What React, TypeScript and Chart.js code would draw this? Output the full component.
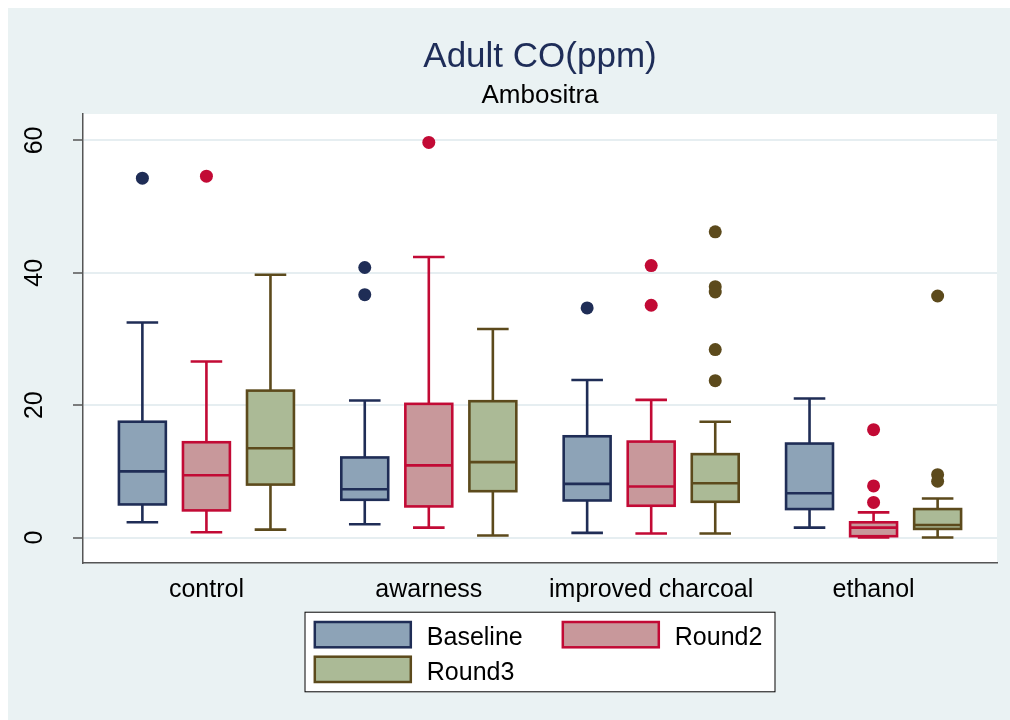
import { useEffect, useRef } from 'react';
import { Chart, registerables } from 'chart.js';

Chart.register(...registerables);

// ---------- data ----------
const titleText = 'Adult CO(ppm)';
const subtitleText = 'Ambositra';
const categories = ['control', 'awarness', 'improved charcoal', 'ethanol'];
const seriesNames = ['Baseline', 'Round2', 'Round3'];
const yTicks = [0, 20, 40, 60];

const baselineLow = [2.3, 2.0, 0.7, 1.5];
const baselineQ1 = [5.0, 5.7, 5.6, 4.3];
const baselineMedian = [10.0, 7.3, 8.1, 6.7];
const baselineQ3 = [17.5, 12.1, 15.3, 14.2];
const baselineHigh = [32.5, 20.7, 23.8, 21.0];
const baselineOutliers = [[54.3], [40.8, 36.7], [34.7], []];

const round2Low = [0.8, 1.5, 0.6, 0.0];
const round2Q1 = [4.1, 4.7, 4.8, 0.2];
const round2Median = [9.4, 10.9, 7.7, 1.5];
const round2Q3 = [14.4, 20.2, 14.5, 2.3];
const round2High = [26.6, 42.4, 20.8, 3.8];
const round2Outliers = [[54.6], [59.7], [41.1, 35.1], [16.3, 7.8, 5.3]];

const round3Low = [1.2, 0.3, 0.6, 0.0];
const round3Q1 = [8.0, 7.0, 5.4, 1.3];
const round3Median = [13.5, 11.4, 8.2, 1.9];
const round3Q3 = [22.2, 20.6, 12.6, 4.3];
const round3High = [39.7, 31.5, 17.5, 5.9];
const round3Outliers = [[], [], [46.2, 37.9, 37.1, 28.4, 23.7], [36.5, 9.5, 8.5]];

// ---------- styling ----------
const seriesStroke = ['#1F2D56', '#C20A35', '#5C4A1C'];
const seriesFill = ['#8DA3B7', '#C8989B', '#ABBA96'];
const groupOffsets = [-0.288, 0, 0.288];
const boxWidthUnits = 0.211;
const capWidthUnits = 0.142;
const bgColor = '#EAF2F3';
const FONT = '"Liberation Sans", Arial, Helvetica, sans-serif';

const seriesStats = [
  { low: baselineLow, q1: baselineQ1, med: baselineMedian, q3: baselineQ3, high: baselineHigh, out: baselineOutliers },
  { low: round2Low, q1: round2Q1, med: round2Median, q3: round2Q3, high: round2High, out: round2Outliers },
  { low: round3Low, q1: round3Q1, med: round3Median, q3: round3Q3, high: round3High, out: round3Outliers },
];

const boxPlugin = {
  id: 'stataBox',
  beforeDraw(chart: any) {
    const { ctx, chartArea, width, height } = chart;
    ctx.save();
    ctx.fillStyle = bgColor;
    ctx.fillRect(0, 0, width, height);
    ctx.fillStyle = '#FFFFFF';
    ctx.fillRect(chartArea.left, chartArea.top, chartArea.right - chartArea.left, chartArea.bottom - chartArea.top);
    ctx.restore();
  },
  beforeDatasetsDraw(chart: any) {
    const { ctx } = chart;
    const xs = chart.scales.x;
    const ys = chart.scales.y;
    const unit = xs.getPixelForValue(1) - xs.getPixelForValue(0);
    const halfBox = (boxWidthUnits * unit) / 2;
    const halfCap = (capWidthUnits * unit) / 2;
    ctx.save();
    ctx.lineWidth = 2.6;
    ctx.lineCap = 'butt';
    seriesStats.forEach((st, s) => {
      categories.forEach((_, i) => {
        const cx = xs.getPixelForValue(i + groupOffsets[s]);
        const yLow = ys.getPixelForValue(st.low[i]);
        const yQ1 = ys.getPixelForValue(st.q1[i]);
        const yMed = ys.getPixelForValue(st.med[i]);
        const yQ3 = ys.getPixelForValue(st.q3[i]);
        const yHigh = ys.getPixelForValue(st.high[i]);
        ctx.strokeStyle = seriesStroke[s];
        ctx.beginPath();
        ctx.moveTo(cx, yQ3);
        ctx.lineTo(cx, yHigh);
        ctx.moveTo(cx - halfCap, yHigh);
        ctx.lineTo(cx + halfCap, yHigh);
        ctx.moveTo(cx, yQ1);
        ctx.lineTo(cx, yLow);
        ctx.moveTo(cx - halfCap, yLow);
        ctx.lineTo(cx + halfCap, yLow);
        ctx.stroke();
        ctx.fillStyle = seriesFill[s];
        ctx.fillRect(cx - halfBox, yQ3, halfBox * 2, yQ1 - yQ3);
        ctx.strokeRect(cx - halfBox, yQ3, halfBox * 2, yQ1 - yQ3);
        ctx.beginPath();
        ctx.moveTo(cx - halfBox, yMed);
        ctx.lineTo(cx + halfBox, yMed);
        ctx.stroke();
      });
    });
    ctx.restore();
  },
  afterDraw(chart: any) {
    const { ctx, chartArea } = chart;
    const xs = chart.scales.x;
    const ys = chart.scales.y;
    const cxArea = (chartArea.left + chartArea.right) / 2;
    ctx.save();
    // titles
    ctx.textAlign = 'center';
    ctx.textBaseline = 'alphabetic';
    ctx.fillStyle = '#1E2D58';
    ctx.font = `35px ${FONT}`;
    ctx.fillText(titleText, cxArea, chartArea.top - 47.3);
    ctx.fillStyle = '#000000';
    ctx.font = `26px ${FONT}`;
    ctx.fillText(subtitleText, cxArea, chartArea.top - 10.7);
    // x labels
    ctx.font = `25px ${FONT}`;
    categories.forEach((c, i) => {
      ctx.fillText(c, xs.getPixelForValue(i), chartArea.bottom + 33.7);
    });
    // y labels (rotated)
    yTicks.forEach((v) => {
      const py = ys.getPixelForValue(v);
      ctx.save();
      ctx.translate(chartArea.left - 41.5, py);
      ctx.rotate(-Math.PI / 2);
      ctx.textAlign = 'center';
      ctx.textBaseline = 'alphabetic';
      ctx.fillText(String(v), 0, 0);
      ctx.restore();
    });
    // legend
    const lw = 471;
    const lh = 80.6;
    const lx = cxArea - lw / 2;
    const ly = chartArea.bottom + 48.7;
    ctx.fillStyle = '#FFFFFF';
    ctx.fillRect(lx, ly, lw, lh);
    ctx.strokeStyle = '#000000';
    ctx.lineWidth = 1;
    ctx.strokeRect(lx + 0.5, ly + 0.5, lw - 1, lh - 1);
    const colX = [lx + 10.3, lx + 258.3];
    const rowY = [ly + 10.3, ly + 45];
    ctx.textAlign = 'left';
    ctx.font = `25px ${FONT}`;
    seriesNames.forEach((name, s) => {
      const col = s % 2;
      const row = Math.floor(s / 2);
      const sx = colX[col];
      const sy = rowY[row];
      ctx.fillStyle = seriesFill[s];
      ctx.fillRect(sx, sy, 96, 25.3);
      ctx.strokeStyle = seriesStroke[s];
      ctx.lineWidth = 2.5;
      ctx.strokeRect(sx, sy, 96, 25.3);
      ctx.fillStyle = '#000000';
      ctx.fillText(name, sx + 112, sy + 23);
    });
    ctx.restore();
  },
};

export default function App() {
  const canvasRef = useRef<HTMLCanvasElement | null>(null);
  useEffect(() => {
    document.documentElement.style.overflow = 'hidden';
    document.body.style.margin = '8px 0 0 8px';
    const canvas = canvasRef.current;
    if (!canvas) return;
    const datasets = seriesNames.map((name, s) => ({
      label: name,
      data: seriesStats[s].out.flatMap((vals, i) => vals.map((v) => ({ x: i + groupOffsets[s], y: v }))),
      backgroundColor: seriesStroke[s],
      borderColor: seriesStroke[s],
      borderWidth: 0,
      pointRadius: 6.5,
      pointHoverRadius: 6.5,
    }));
    const chart = new Chart(canvas, {
      type: 'scatter',
      data: { datasets },
      options: {
        animation: false,
        responsive: false,
        devicePixelRatio: 1,
        events: [],
        layout: { padding: { top: 106, left: 65, right: 13, bottom: 117 } },
        plugins: { legend: { display: false }, tooltip: { enabled: false }, title: { display: false } },
        scales: {
          x: {
            type: 'linear',
            min: -0.555,
            max: 3.555,
            afterBuildTicks: (scale: any) => {
              scale.ticks = categories.map((_, i) => ({ value: i }));
            },
            afterFit: (scale: any) => {
              scale.height = 40;
            },
            ticks: { display: false },
            grid: { display: false },
            border: { display: true, color: '#555555', width: 1.5 },
          },
          y: {
            type: 'linear',
            min: -3.85,
            max: 64.0,
            afterBuildTicks: (scale: any) => {
              scale.ticks = yTicks.map((v) => ({ value: v }));
            },
            afterFit: (scale: any) => {
              scale.width = 10;
            },
            ticks: { display: false },
            grid: {
              display: true,
              color: '#E6EEF1',
              lineWidth: 2,
              drawTicks: true,
              tickLength: 10,
              tickColor: '#555555',
              tickWidth: 1.5,
            },
            border: { display: true, color: '#555555', width: 1.5 },
          },
        },
      },
      plugins: [boxPlugin],
    });
    return () => {
      chart.destroy();
    };
  }, []);
  return (
    <div style={{ width: 1002, height: 712 }}>
      <canvas ref={canvasRef} width={1002} height={712} style={{ display: 'block' }} />
    </div>
  );
}
